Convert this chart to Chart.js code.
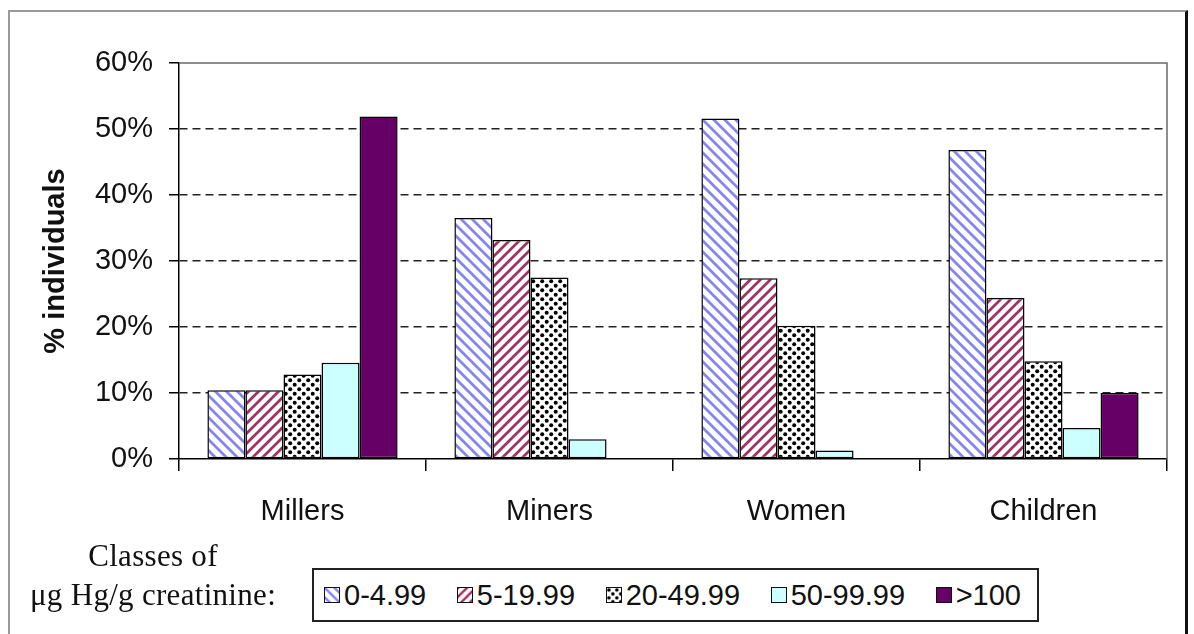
<!DOCTYPE html>
<html>
<head>
<meta charset="utf-8">
<script src="https://cdn.jsdelivr.net/npm/chart.js@4.4.1/dist/chart.umd.min.js"></script>
<style>
  html, body { margin: 0; padding: 0; background: #fff; }
  body { width: 1194px; height: 634px; position: relative; overflow: hidden; }
  #frame {
    position: absolute; left: 8px; top: 10px; width: 1180px; height: 640px;
    border-left: 2px solid #9a9a9a; border-top: 2px solid #9a9a9a; border-right: 3px solid #111;
    box-sizing: border-box;
  }
  #wrap { position: absolute; left: 0; top: 0; width: 1194px; height: 540px; }
  #classes {
    position: absolute; left: 5px; top: 536px; width: 296px; text-align: center;
    font-family: "Liberation Serif", "Times New Roman", serif; font-size: 31px; line-height: 39px; color: #111;
    letter-spacing: 0.3px;
  }
  #legend {
    position: absolute; left: 312px; top: 568px; width: 727px; height: 54px;
    border: 2px solid #222; box-sizing: border-box;
    display: flex; align-items: center; justify-content: space-between;
    padding: 0 16px 0 10px;
    font-family: "Liberation Sans", Arial, sans-serif; font-size: 29px; color: #111;
  }
  .item { display: flex; align-items: center; }
  .item canvas { width: 16px; height: 16px; margin-right: 4px; border: 1.5px solid #111; box-sizing: border-box; }
</style>
</head>
<body>
<div id="frame"></div>
<div id="wrap"><canvas id="chart" width="1194" height="540"></canvas></div>
<div id="classes">Classes of<br>μg Hg/g creatinine:</div>
<div id="legend"></div>
<script>
// Population groups on the x axis
const categories = ['Millers', 'Miners', 'Women', 'Children'];
// Urinary mercury classes (µg Hg/g creatinine)
const classLabels = ['0-4.99', '5-19.99', '20-49.99', '50-99.99', '>100'];
// Share of individuals (%) in each class, per group
const class0to5 = [10.4, 36.5, 51.6, 46.8];
const class5to20 = [10.4, 33.2, 27.4, 24.4];
const class20to50 = [12.8, 27.5, 20.2, 14.8];
const class50to100 = [14.6, 3.0, 1.3, 4.7];
const classOver100 = [51.9, 0, 0, 10.0];
const seriesValues = [class0to5, class5to20, class20to50, class50to100, classOver100];

const FONT = '"Liberation Sans", Arial, sans-serif';

// Fill builders: hatches, dots and solid colours
function tile(size, draw) {
  const c = document.createElement('canvas');
  c.width = c.height = size;
  const g = c.getContext('2d');
  draw(g, size);
  return c;
}
function hatchTile(color, back, size, lw) {
  return tile(size, (g, s) => {
    g.fillStyle = '#fff'; g.fillRect(0, 0, s, s);
    g.strokeStyle = color; g.lineWidth = lw; g.lineCap = 'square';
    g.beginPath();
    for (let k = -1; k <= 1; k++) {
      if (back) { g.moveTo(k * s - 1, -1); g.lineTo(k * s + s + 1, s + 1); }
      else { g.moveTo(k * s - 1, s + 1); g.lineTo(k * s + s + 1, -1); }
    }
    g.stroke();
  });
}
function dotTile() {
  return tile(9, (g, s) => {
    g.fillStyle = '#fff'; g.fillRect(0, 0, s, s);
    g.fillStyle = '#000';
    [[2.2, 2.2], [6.7, 6.7]].forEach(([x, y]) => { g.beginPath(); g.arc(x, y, 2.0, 0, Math.PI * 2); g.fill(); });
  });
}
const tiles = [
  () => hatchTile('#8585ee', true, 11, 2.8),
  () => hatchTile('#a3305f', false, 10, 2.7),
  () => dotTile(),
  null,
  null
];
const solid = [null, null, null, '#ccffff', '#660066'];

const ctx = document.getElementById('chart').getContext('2d');
function fillFor(i, context) {
  if (solid[i]) return solid[i];
  return context.createPattern(tiles[i](), 'repeat');
}

const datasets = classLabels.map((lab, i) => ({
  label: lab,
  data: seriesValues[i],
  backgroundColor: fillFor(i, ctx),
  borderColor: '#000',
  borderWidth: 1.5,
  borderSkipped: false,
  categoryPercentage: 0.77,
  barPercentage: 1.0
}));

// Plot-area frame along the top and right edges
const plotFrame = {
  id: 'plotFrame',
  beforeDatasetsDraw(chart) {
    const { ctx, chartArea: a } = chart;
    ctx.save();
    ctx.strokeStyle = '#6a6a6a';
    ctx.lineWidth = 1.5;
    ctx.beginPath();
    ctx.moveTo(a.left, a.top);
    ctx.lineTo(a.right, a.top);
    ctx.lineTo(a.right, a.bottom);
    ctx.stroke();
    ctx.restore();
  }
};

new Chart(ctx, {
  type: 'bar',
  data: { labels: categories, datasets },
  plugins: [plotFrame],
  options: {
    responsive: false,
    animation: false,
    layout: { padding: { top: 63, right: 27, left: 0, bottom: 0 } },
    plugins: { legend: { display: false }, tooltip: { enabled: false } },
    scales: {
      x: {
        afterFit(s) { s.height = 81; },
        grid: { offset: true, drawOnChartArea: false, tickLength: 12, color: '#000', lineWidth: 1.5 },
        border: { color: '#000', width: 1.5 },
        ticks: { color: '#111', padding: 24, font: { family: FONT, size: 29 } }
      },
      y: {
        min: 0, max: 60,
        afterFit(s) { s.width = 179; },
        ticks: {
          stepSize: 10, color: '#111', padding: 16,
          font: { family: FONT, size: 29 },
          callback: v => v + '%'
        },
        grid: {
          color: c => (c.tick && (c.tick.value === 0 || c.tick.value === 60)) ? 'rgba(0,0,0,0)' : '#222',
          lineWidth: 1.5,
          tickLength: 10,
          tickColor: '#000',
          tickBorderDash: []
        },
        border: { color: '#000', width: 1.5, dash: [8, 5] },
        title: {
          display: true, text: '% individuals', color: '#111',
          font: { family: FONT, size: 29, weight: 'bold' },
          padding: { top: 39, bottom: 0 }
        }
      }
    }
  }
});

// Legend swatches drawn with the same fills as the bars
const legend = document.getElementById('legend');
classLabels.forEach((lab, i) => {
  const item = document.createElement('div');
  item.className = 'item';
  const sw = document.createElement('canvas');
  sw.width = 16; sw.height = 16;
  const g = sw.getContext('2d');
  g.fillStyle = solid[i] || g.createPattern(tiles[i](), 'repeat');
  g.fillRect(0, 0, 16, 16);
  const txt = document.createElement('span');
  txt.textContent = lab;
  item.appendChild(sw);
  item.appendChild(txt);
  legend.appendChild(item);
});
</script>
</body>
</html>
